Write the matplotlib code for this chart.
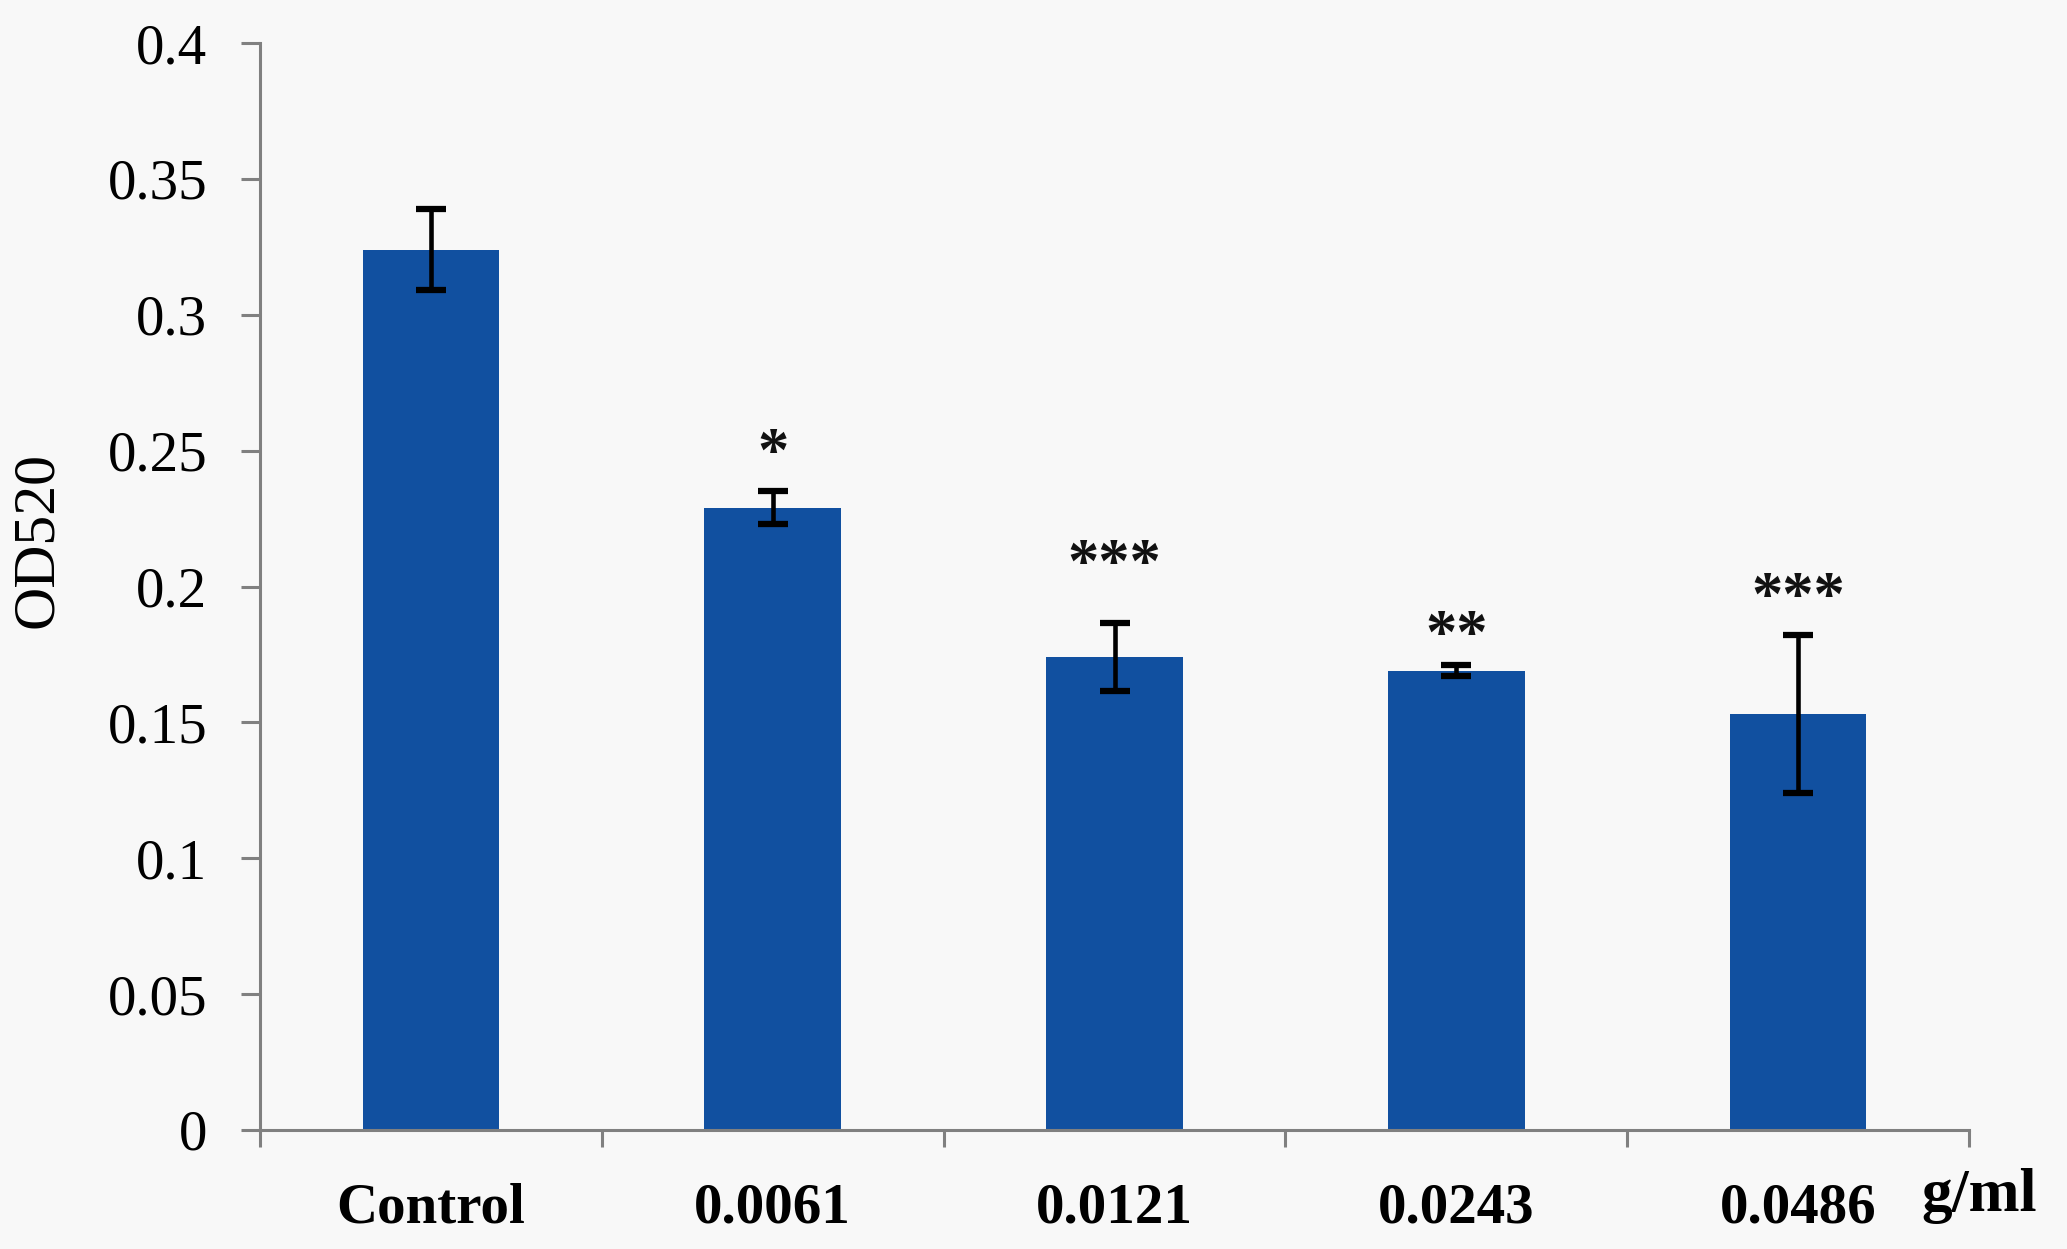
import numpy as np
import matplotlib
matplotlib.use("Agg")
import matplotlib.pyplot as plt
from matplotlib.ticker import MultipleLocator, FormatStrFormatter

# data
categories = ['Control', '0.0061', '0.0121', '0.0243', '0.0486']
od520 = [0.324, 0.229, 0.174, 0.169, 0.153]
od520_err = [0.015, 0.006, 0.0125, 0.002, 0.029]
stars = ['', '*', '***', '**', '***']
star_y = [np.nan, 0.248, 0.207, 0.181, 0.195]

plt.rcParams['font.family'] = ['Liberation Serif', 'DejaVu Serif']

W, H = 2067, 1249
fig = plt.figure(figsize=(W / 100, H / 100), dpi=100, facecolor='#f8f8f8')
ax = fig.add_axes([260 / W, (H - 1130) / H, (1969 - 260) / W, (1130 - 43) / H])
ax.set_facecolor('#f8f8f8')

x = np.arange(len(categories))
ax.bar(x, od520, width=0.4, color='#1150a0', zorder=2)
ax.errorbar(x, od520, yerr=od520_err, fmt='none', ecolor='black',
            elinewidth=3.3, capsize=11, capthick=4.5, zorder=3)

for xi, s, sy in zip(x, stars, star_y):
    if s:
        ax.text(xi, sy, s, ha='center', va='center', fontsize=45,
                fontweight='bold', color='#111111')

ax.set_xlim(-0.5, len(categories) - 0.5)
ax.set_ylim(0, 0.4)
ax.yaxis.set_major_locator(MultipleLocator(0.05))
ax.yaxis.set_major_formatter(FormatStrFormatter('%g'))

ax.set_xticks(x)
ax.set_xticklabels(categories, fontsize=41, fontweight='bold')
ax.set_xticks(np.arange(-0.5, len(categories)), minor=True)
ax.tick_params(axis='x', which='major', length=0, pad=38)
ax.tick_params(axis='x', which='minor', length=12, width=2.2, color='#808080', direction='out')
ax.tick_params(axis='y', length=14, width=2.2, color='#808080', direction='out',
               labelsize=41, pad=24)

for side in ['top', 'right']:
    ax.spines[side].set_visible(False)
for side in ['left', 'bottom']:
    ax.spines[side].set_color('#808080')
    ax.spines[side].set_linewidth(2.2)

fig.text(38 / W, 1 - 540 / H, 'OD520', rotation=90, ha='center', va='center', fontsize=43)
fig.text(1979 / W, 1 - 1196 / H, 'g/ml', ha='center', va='center', fontsize=44, fontweight='bold')

fig.savefig('out.png', dpi=100, facecolor=fig.get_facecolor())
